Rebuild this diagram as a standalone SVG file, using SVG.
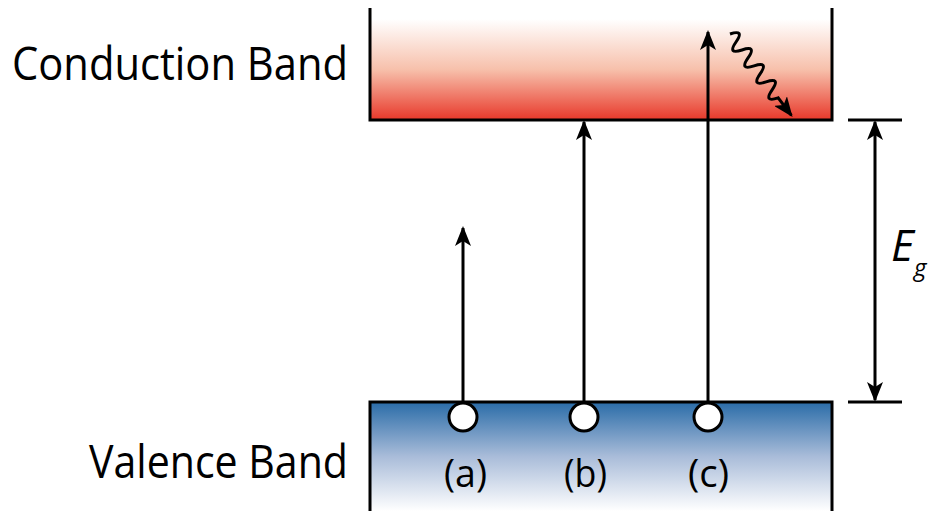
<svg xmlns="http://www.w3.org/2000/svg" width="930" height="511" viewBox="0 0 930 511">
<style>
.ln{stroke:#000;stroke-width:3;fill:none}
.ar{stroke:#000;stroke-width:3;fill:none;marker-end:url(#ah)}
.lbl{font-family:"Open Sans","Liberation Sans",sans-serif;fill:#000}
.dot{fill:#fff;stroke:#000;stroke-width:3}
</style>
<defs>
<linearGradient id="gr" x1="0" y1="0" x2="0" y2="1">
<stop offset="0.1" stop-color="#ffffff"/>
<stop offset="0.55" stop-color="#f7c0ab"/>
<stop offset="1" stop-color="#e8382a"/>
</linearGradient>
<linearGradient id="gb" x1="0" y1="0" x2="0" y2="1">
<stop offset="0" stop-color="#2a6ca8"/>
<stop offset="0.5" stop-color="#a9bcd9"/>
<stop offset="1" stop-color="#ffffff"/>
</linearGradient>
<marker id="ah" viewBox="0 0 20 16" refX="18" refY="8" markerWidth="20" markerHeight="16" markerUnits="userSpaceOnUse" orient="auto-start-reverse">
<path d="M0,0 L20,8 L0,16 L5,8 Z" fill="#000"/>
</marker>
</defs>
<g id="conduction-band">
<rect x="370" y="8" width="462" height="112" fill="url(#gr)"/>
<path class="ln" d="M370,8 V120 H832 V8"/>
<text class="lbl" x="12" y="80" font-size="45" textLength="336" lengthAdjust="spacingAndGlyphs">Conduction Band</text>
</g>
<g id="valence-band">
<rect x="370" y="402" width="462" height="109" fill="url(#gb)"/>
<path class="ln" d="M370,511 V402 H832 V511"/>
<text class="lbl" x="89" y="478" font-size="45" textLength="259" lengthAdjust="spacingAndGlyphs">Valence Band</text>
</g>
<g id="connectors">
<line class="ar" x1="463" y1="402" x2="463" y2="228"/>
<line class="ar" x1="584" y1="402" x2="584" y2="122"/>
<line class="ar" x1="708" y1="402" x2="708" y2="32"/>
<path class="ar" transform="translate(730,34) rotate(53)" d="M0,0 Q5,-15 10,0 T20,0 T30,0 T40,0 T50,0 T60,0 T70,0 T80,0 L102,0"/>
</g>
<g id="electron-a">
<circle class="dot" cx="463" cy="417" r="14"/>
<text class="lbl" x="444" y="487" font-size="38" textLength="43" lengthAdjust="spacingAndGlyphs">(a)</text>
</g>
<g id="electron-b">
<circle class="dot" cx="584" cy="417" r="14"/>
<text class="lbl" x="564" y="487" font-size="38" textLength="43" lengthAdjust="spacingAndGlyphs">(b)</text>
</g>
<g id="electron-c">
<circle class="dot" cx="708" cy="417" r="14"/>
<text class="lbl" x="688" y="487" font-size="38" textLength="41" lengthAdjust="spacingAndGlyphs">(c)</text>
</g>
<g id="band-gap">
<line class="ln" x1="848" y1="120" x2="902" y2="120"/>
<line class="ln" x1="848" y1="402" x2="902" y2="402"/>
<line class="ln" x1="875" y1="122" x2="875" y2="400" style="marker-start:url(#ah);marker-end:url(#ah)"/>
<text class="lbl" x="891" y="261" font-style="italic" font-size="44">E</text>
<text class="lbl" x="914" y="276" font-style="italic" font-size="24">g</text>
</g>
</svg>
